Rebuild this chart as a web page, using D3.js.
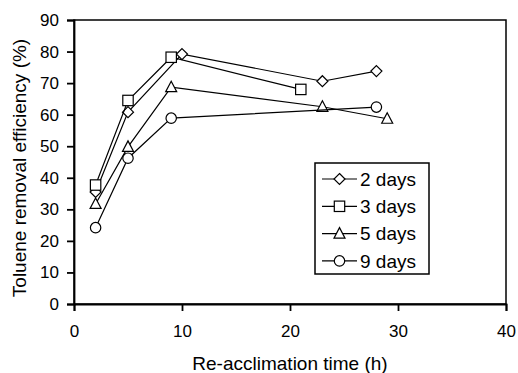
<!DOCTYPE html>
<html>
<head>
<meta charset="utf-8">
<script src="https://cdn.jsdelivr.net/npm/d3@7"></script>
<style>
  body { margin: 0; background: #fff; }
  text { font-family: "Liberation Sans", Arial, sans-serif; fill: #000; }
</style>
</head>
<body>
<script>
// Dados
const seriesNames = ["2 days", "3 days", "5 days", "9 days"];
const symbols = ["diamond", "square", "triangle", "circle"];

const x2d = [2, 5, 10, 23, 28];
const y2d = [35.5, 60.8, 79.2, 70.6, 73.8];
const x3d = [2, 5, 9, 21];
const y3d = [37.7, 64.5, 78.2, 68.0];
const x5d = [2, 5, 9, 23, 29];
const y5d = [31.7, 49.8, 68.7, 62.5, 58.7];
const x9d = [2, 5, 9, 28];
const y9d = [24.2, 46.2, 58.9, 62.4];

const xTicks = [0, 10, 20, 30, 40];
const yTicks = [0, 10, 20, 30, 40, 50, 60, 70, 80, 90];

const series = [
  {name: seriesNames[0], sym: symbols[0], xs: x2d, ys: y2d},
  {name: seriesNames[1], sym: symbols[1], xs: x3d, ys: y3d},
  {name: seriesNames[2], sym: symbols[2], xs: x5d, ys: y5d},
  {name: seriesNames[3], sym: symbols[3], xs: x9d, ys: y9d}
];

const W = 518, H = 373;
const margin = {top: 20, right: 12, bottom: 69, left: 74};

const svg = d3.select("body").append("svg")
  .attr("width", W)
  .attr("height", H);

const x = d3.scaleLinear().domain([0, 40]).range([margin.left, W - margin.right]);
const y = d3.scaleLinear().domain([0, 90]).range([H - margin.bottom, margin.top]);

// Moldura
svg.append("rect")
  .attr("x", x(0)).attr("y", y(90))
  .attr("width", x(40) - x(0)).attr("height", y(0) - y(90))
  .attr("fill", "none").attr("stroke", "#000").attr("stroke-width", 1.5);

// Eixos
const xAxis = svg.append("g")
  .attr("transform", "translate(0," + y(0) + ")")
  .call(d3.axisBottom(x).tickValues(xTicks).tickSize(7).tickPadding(14));
const yAxis = svg.append("g")
  .attr("transform", "translate(" + x(0) + ",0)")
  .call(d3.axisLeft(y).tickValues(yTicks).tickSize(7).tickPadding(8));

[xAxis, yAxis].forEach(a => {
  a.select(".domain").attr("stroke-width", 1.8);
  a.selectAll(".tick line").attr("stroke-width", 1.8);
  a.selectAll("text").style("font-size", "17px")
    .style("font-family", "'Liberation Sans', Arial, sans-serif");
});

// Titulos dos eixos
svg.append("text")
  .attr("x", (x(0) + x(40)) / 2)
  .attr("y", 370)
  .attr("text-anchor", "middle")
  .style("font-size", "19px")
  .text("Re-acclimation time (h)");

svg.append("text")
  .attr("transform", "translate(26," + ((y(0) + y(90)) / 2 + 6) + ") rotate(-90)")
  .attr("text-anchor", "middle")
  .style("font-size", "19px")
  .text("Toluene removal efficiency (%)");

// Desenha marcador
function drawMarker(g, sym, cx, cy) {
  if (sym === "diamond") {
    g.append("path")
      .attr("d", "M" + cx + "," + (cy - 5.5) + "L" + (cx + 5.5) + "," + cy +
        "L" + cx + "," + (cy + 5.5) + "L" + (cx - 5.5) + "," + cy + "Z");
  } else if (sym === "square") {
    g.append("rect").attr("x", cx - 5.2).attr("y", cy - 5.2)
      .attr("width", 10.4).attr("height", 10.4);
  } else if (sym === "triangle") {
    g.append("path")
      .attr("d", "M" + cx + "," + (cy - 6) + "L" + (cx + 5.5) + "," + (cy + 4.5) +
        "L" + (cx - 5.5) + "," + (cy + 4.5) + "Z");
  } else {
    g.append("circle").attr("cx", cx).attr("cy", cy).attr("r", 5.2);
  }
}

const line = d3.line().x(d => x(d[0])).y(d => y(d[1]));

series.forEach(s => {
  const pts = s.xs.map((v, i) => [v, s.ys[i]]);
  svg.append("path")
    .datum(pts)
    .attr("d", line)
    .attr("fill", "none")
    .attr("stroke", "#000")
    .attr("stroke-width", 1.2);
  const mg = svg.append("g").attr("fill", "#fff").attr("stroke", "#000").attr("stroke-width", 1.2);
  pts.forEach(p => drawMarker(mg, s.sym, x(p[0]), y(p[1])));
});

// Legenda
const lg = svg.append("g");
lg.append("rect")
  .attr("x", 315).attr("y", 163)
  .attr("width", 114).attr("height", 111)
  .attr("fill", "#fff").attr("stroke", "#000").attr("stroke-width", 1.5);

series.forEach((s, i) => {
  const cy = 179 + i * 27.3;
  lg.append("line")
    .attr("x1", 322).attr("x2", 357)
    .attr("y1", cy).attr("y2", cy)
    .attr("stroke", "#000").attr("stroke-width", 1.2);
  const mg = lg.append("g").attr("fill", "#fff").attr("stroke", "#000").attr("stroke-width", 1.2);
  drawMarker(mg, s.sym, 339.5, cy);
  lg.append("text")
    .attr("x", 360).attr("y", cy)
    .attr("dy", "0.35em")
    .style("font-size", "19px")
    .text(s.name);
});
</script>
</body>
</html>
